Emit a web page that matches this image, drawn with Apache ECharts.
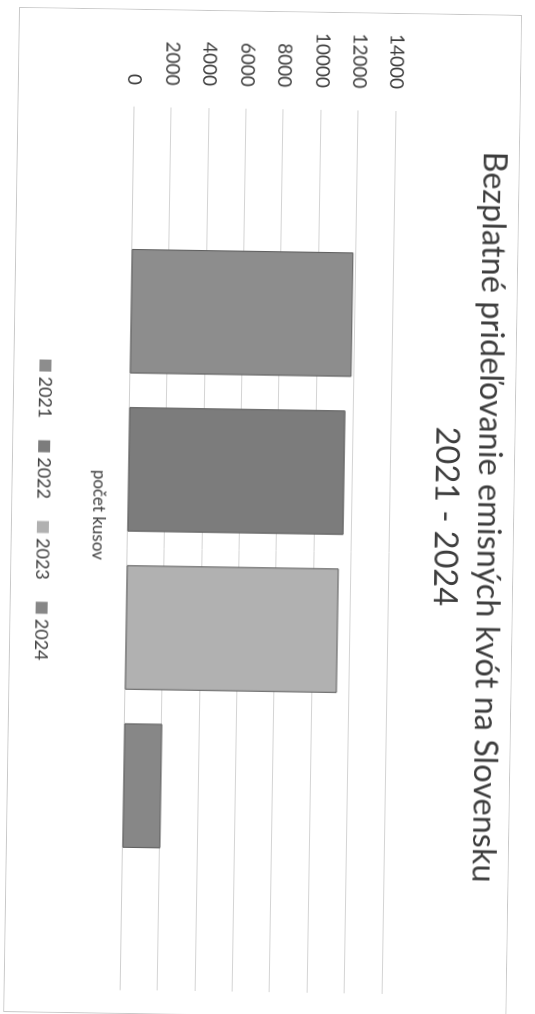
<!DOCTYPE html>
<html>
<head>
<meta charset="utf-8">
<script src="https://cdn.jsdelivr.net/npm/echarts@6/dist/echarts.min.js"></script>
<style>
  html, body { margin: 0; padding: 0; width: 535px; height: 1014px; overflow: hidden; background: #ffffff; }
  #frame {
    position: absolute; left: 0; top: 0;
    width: 1005px; height: 503px;
    box-sizing: border-box;
    border: 1px solid #c9c9c9;
    transform-origin: 0 0;
    transform: translate(522px, 15px) rotate(90.9deg);
    background: #ffffff;
  }
  #chart { width: 1003px; height: 501px; }
</style>
</head>
<body>
<div id="frame"><div id="chart"></div></div>
<script>
const titleLines = ['Bezplatné prideľovanie emisných kvót na Slovensku', '2021 - 2024'];
const categories = ['počet kusov'];
const seriesNames = ['2021', '2022', '2023', '2024'];
const values2021 = [11850];
const values2022 = [11550];
const values2023 = [11330];
const values2024 = [2030];
const valueTicks = [0, 2000, 4000, 6000, 8000, 10000, 12000, 14000];
const seriesColors = ['#8d8d8d', '#7c7c7c', '#b1b1b1', '#878787'];

const seriesValues = [values2021, values2022, values2023, values2024];
const fontFamily = 'Lato, "Noto Sans", sans-serif';

const chart = echarts.init(document.getElementById('chart'), null, { renderer: 'canvas' });
chart.setOption({
  animation: false,
  backgroundColor: '#ffffff',
  textStyle: { fontFamily: fontFamily },
  title: {
    text: titleLines.join('\n'),
    left: 'center',
    top: 3,
    padding: 0,
    textStyle: { fontSize: 32.5, lineHeight: 43, fontWeight: 'normal', color: '#3d3d3d', fontFamily: fontFamily }
  },
  legend: {
    data: seriesNames,
    bottom: 17,
    left: 'center',
    icon: 'rect',
    itemWidth: 12,
    itemHeight: 12,
    itemGap: 22,
    itemStyle: { borderWidth: 0 },
    textStyle: { fontSize: 18, color: '#3d3d3d', fontFamily: fontFamily }
  },
  grid: { left: 97, right: 23, top: 123.5, bottom: 115.5, containLabel: false },
  xAxis: {
    type: 'category',
    data: categories,
    axisTick: { show: false },
    axisLine: { show: true, lineStyle: { color: '#d0d0d0', width: 1 } },
    axisLabel: { margin: 21, fontSize: 17, color: '#3d3d3d', fontFamily: fontFamily, padding: [0, 66, 0, 0] }
  },
  yAxis: {
    type: 'value',
    min: valueTicks[0],
    max: valueTicks[valueTicks.length - 1],
    interval: valueTicks[1] - valueTicks[0],
    axisLine: { show: false },
    axisTick: { show: false },
    splitLine: { show: true, lineStyle: { color: '#d4d4d4', width: 1 } },
    axisLabel: { margin: 22, fontSize: 19, color: '#3d3d3d', fontFamily: fontFamily,
                 formatter: function (v) { return String(v); } }
  },
  series: seriesNames.map((name, i) => ({
    name: name,
    type: 'bar',
    data: seriesValues[i],
    barWidth: '14.1%',
    barGap: '27%',
    itemStyle: { color: seriesColors[i], borderColor: '#5a5a5a', borderWidth: 1 }
  }))
});
</script>
</body>
</html>
